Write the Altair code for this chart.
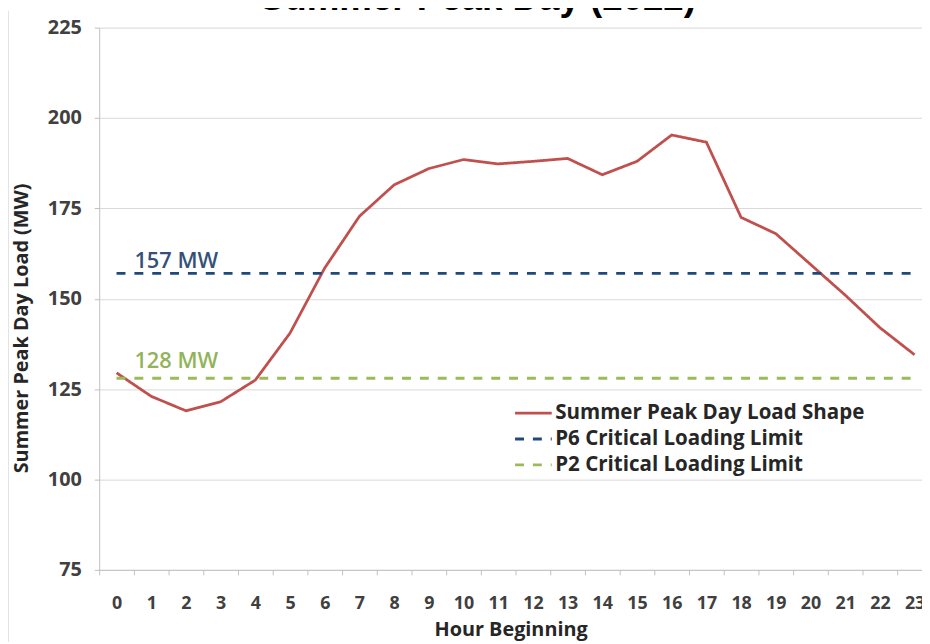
import altair as alt
import pandas as pd

# ---- data ----
hours = list(range(24))
load_mw = [129.5, 123.0, 119.0, 121.5, 127.5, 140.5, 158.5, 172.8, 181.5, 186.0,
           188.5, 187.3, 188.0, 188.8, 184.3, 188.0, 195.3, 193.3, 172.5, 168.0,
           159.5, 151.0, 142.0, 134.5]
p6_limit = 157
p2_limit = 128
series_names = ["Summer Peak Day Load Shape", "P6 Critical Loading Limit", "P2 Critical Loading Limit"]
series_colors = ["#c0504d", "#1f497d", "#9bbb59"]
title_text = "Summer Peak Day (2022)"
x_title = "Hour Beginning"
y_title = "Summer Peak Day Load (MW)"
y_ticks = [75, 100, 125, 150, 175, 200, 225]

FONT = "Open Sans"

rows = [{"hour": h, "mw": v, "series": series_names[0]} for h, v in zip(hours, load_mw)]
rows += [{"hour": h, "mw": p6_limit, "series": series_names[1]} for h in (hours[0], hours[-1])]
rows += [{"hour": h, "mw": p2_limit, "series": series_names[2]} for h in (hours[0], hours[-1])]
df = pd.DataFrame(rows)

x_scale = alt.Scale(domain=[-0.5, 23.214], nice=False, zero=False)
y_scale = alt.Scale(domain=[75, 225], nice=False, zero=False)

x_axis = alt.Axis(values=hours, title=x_title, grid=False, tickOffset=-17.5,
                  labelOffset=17.5, tickSize=5, tickColor="#bfbfbf",
                  domainColor="#bfbfbf", labelFont=FONT, labelFontSize=18,
                  labelFontWeight="bold", labelColor="#404040",
                  labelBaseline="middle", labelPadding=29, labelFlush=False,
                  labelOverlap=False, labelBound=False, labelSeparation=0,
                  titleFont=FONT, titleFontSize=20, titleFontWeight="bold",
                  titleColor="#262626", titleBaseline="middle", titleY=60)
y_axis = alt.Axis(values=y_ticks, title=y_title, grid=True, gridColor="#d9d9d9",
                  tickSize=5, tickColor="#bfbfbf", domainColor="#bfbfbf",
                  labelFont=FONT, labelFontSize=20, labelFontWeight="bold",
                  labelColor="#404040", labelPadding=13,
                  titleFont=FONT, titleFontSize=20, titleFontWeight="bold",
                  titleColor="#262626", titleBaseline="middle", titleAngle=-90,
                  titleX=-78, titleY=303, titleAlign="center")

X = alt.X("hour:Q", scale=x_scale, axis=x_axis)
Y = alt.Y("mw:Q", scale=y_scale, axis=y_axis)

lines = alt.Chart(df).mark_line(strokeWidth=2.8).encode(
    x=X, y=Y,
    color=alt.Color("series:N", scale=alt.Scale(domain=series_names, range=series_colors),
                    legend=alt.Legend(title=None, orient="none", legendX=418, legendY=376,
                                      symbolType="stroke", symbolSize=1369,
                                      symbolStrokeWidth=2.8, labelFont=FONT,
                                      labelFontSize=20.7, labelFontWeight="bold",
                                      labelColor="#262626", labelOffset=2,
                                      clipHeight=26, rowPadding=0, padding=0,
                                      labelLimit=400)),
    strokeDash=alt.StrokeDash("series:N",
                              scale=alt.Scale(domain=series_names,
                                              range=[[1, 0], [9, 9], [9, 9]]),
                              legend=alt.Legend(title=None, orient="none", legendX=418,
                                                legendY=376)),
    detail="series:N",
)

lab_df = pd.DataFrame({"hour": [hours[0]], "mw": [p6_limit], "t": [f"{p6_limit} MW"]})
lab_df2 = pd.DataFrame({"hour": [hours[0]], "mw": [p2_limit], "t": [f"{p2_limit} MW"]})

lab6 = alt.Chart(lab_df).mark_text(align="left", baseline="alphabetic", dx=18, dy=-5,
                                   font=FONT, fontSize=22, fontWeight=600,
                                   color="#35517a").encode(x=X, y=Y, text="t:N")
lab2 = alt.Chart(lab_df2).mark_text(align="left", baseline="alphabetic", dx=18, dy=-10,
                                    font=FONT, fontSize=22, fontWeight=600,
                                    color="#93b35a").encode(x=X, y=Y, text="t:N")

title_mark = alt.Chart(pd.DataFrame({"t": [title_text]})).mark_text(
    align="center", baseline="alphabetic", font="Liberation Sans", fontSize=37,
    fontWeight="bold", color="#000000").encode(
    x=alt.value(382), y=alt.value(-18), text="t:N")

frame = alt.Chart(pd.DataFrame({"k": [0]})).mark_rule(color="#d9d9d9", strokeWidth=1.5).encode(
    x=alt.value(-92), y=alt.value(-17), y2=alt.value(620))

chart = alt.layer(frame, lines, lab6, lab2, title_mark).properties(
    width=830, height=547,
    autosize=alt.AutoSizeParams(type="none"),
    padding={"left": 92, "top": 17, "right": 0, "bottom": 70},
    background="white",
).configure_view(stroke=None)

chart.save("out.html", embed_options={"renderer": "svg", "actions": False})
